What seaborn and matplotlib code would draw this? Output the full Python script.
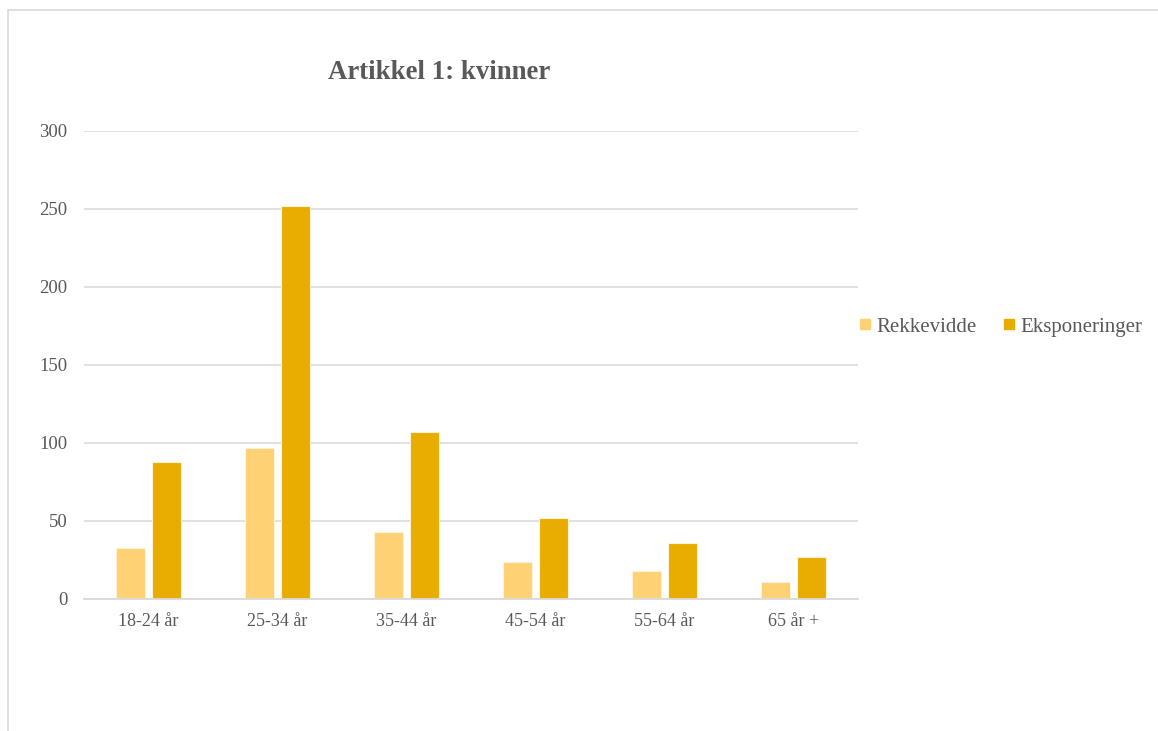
import matplotlib
matplotlib.use("Agg")
import matplotlib.pyplot as plt
from matplotlib.lines import Line2D
import seaborn as sns
import pandas as pd

# Age groups and the two measures per group
categories = ["18-24 år", "25-34 år", "35-44 år", "45-54 år", "55-64 år", "65 år +"]
rekkevidde = [33, 97, 43, 24, 18, 11]
eksponeringer = [88, 252, 107, 52, 36, 27]
series_names = ["Rekkevidde", "Eksponeringer"]
yticks = [0, 50, 100, 150, 200, 250, 300]
title = "Artikkel 1: kvinner"

colors = {"Rekkevidde": "#FFD175", "Eksponeringer": "#E8AD00"}
text_color = "#595959"
grid_color = "#D9D9D9"

df = pd.DataFrame({
    "Alder": categories * 2,
    "Serie": [series_names[0]] * len(categories) + [series_names[1]] * len(categories),
    "Verdi": rekkevidde + eksponeringer,
})

sns.set_theme(style="white")
plt.rcParams["font.family"] = ["Liberation Serif", "DejaVu Serif"]

fig = plt.figure(figsize=(11.58, 7.31), dpi=100)
ax = fig.add_axes([0.0725, 0.1806, 0.6685, 0.6402])

sns.barplot(
    data=df, x="Alder", y="Verdi", hue="Serie", order=categories,
    hue_order=series_names, palette=colors, saturation=1, width=0.56, gap=0.2,
    linewidth=0.8, edgecolor="#FFF3D6", legend=False, ax=ax,
)

ax.set_ylim(0, 300)
ax.set_xlim(-0.5, len(categories) - 0.5)
ax.set_yticks(yticks)
ax.set_yticklabels([str(v) for v in yticks])
ax.yaxis.grid(True, color=grid_color, linewidth=1.1)
ax.set_axisbelow(True)
ax.set_xlabel("")
ax.set_ylabel("")
for side in ["left", "right", "top"]:
    ax.spines[side].set_visible(False)
ax.spines["bottom"].set_color(grid_color)
ax.spines["bottom"].set_linewidth(1.3)
ax.tick_params(axis="y", length=0, pad=12, labelsize=13.5, labelcolor=text_color)
ax.tick_params(axis="x", length=0, pad=10, labelsize=13, labelcolor=text_color)

fig.text(0.379, 0.901, title, ha="center", va="center", fontsize=19.3,
         fontweight="bold", color=text_color)

handles = [Line2D([0], [0], marker="s", linestyle="none", markersize=7,
                  markerfacecolor=colors[s], markeredgecolor=colors[s])
           for s in series_names]
fig.legend(handles, series_names, loc="center left", bbox_to_anchor=(0.724, 0.553),
           ncol=2, frameon=False, fontsize=15, labelcolor=text_color,
           handletextpad=0.1, columnspacing=1.2, handlelength=0.8)

# Chart-area frame along the top and left edges
fig.add_artist(Line2D([0.0069, 1.0], [0.986, 0.986], transform=fig.transFigure,
                      color=grid_color, linewidth=1.2))
fig.add_artist(Line2D([0.0069, 0.0069], [0.0, 0.986], transform=fig.transFigure,
                      color=grid_color, linewidth=1.2))

fig.savefig("out.png", dpi=100, facecolor="white")
